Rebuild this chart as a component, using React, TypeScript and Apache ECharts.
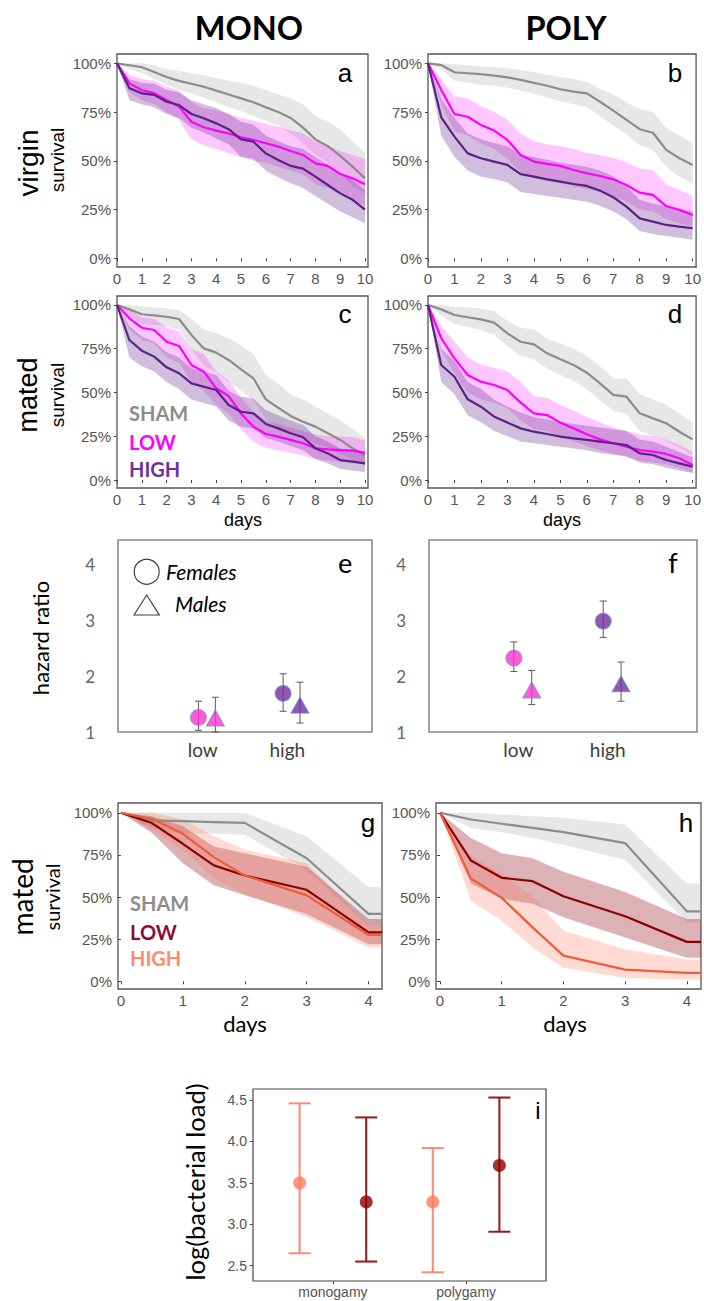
import React, { useEffect, useRef } from "react";
import * as echarts from "echarts";

// ---------- DATA ----------
const T10 = [0, 0.5, 1, 1.5, 2, 2.5, 3, 3.5, 4, 4.5, 5, 5.5, 6, 6.5, 7, 7.5, 8, 8.5, 9, 9.5, 10];
const T4 = [0, 0.5, 1, 1.5, 2, 3, 4];
const dayTicks10 = [0, 1, 2, 3, 4, 5, 6, 7, 8, 9, 10];
const dayTicks4 = [0, 1, 2, 3, 4];
const pctTicks = [0, 25, 50, 75, 100];

// panel a (mono, virgin)
const aShamMean = [100, 99, 98, 95.5, 93, 91, 89.5, 88, 86, 84, 82, 80, 77.5, 75, 72, 67, 61, 57.5, 52.5, 47, 41];
const aShamHi = [100, 100, 100, 99, 97, 96, 95, 94, 92.5, 91, 90, 88.5, 86.5, 84, 82, 79, 73, 70, 66, 60, 54];
const aShamLo = [100, 97, 95, 92, 89, 86.5, 84.5, 82.5, 80, 77.5, 75.5, 73, 70.5, 68, 64, 59, 53, 49, 43, 37, 33];
const aLowMean = [100, 89.7, 86.3, 84.6, 81.2, 77.8, 70, 67.2, 65.5, 64, 62, 60.7, 59, 57.3, 55, 53, 48.7, 47.4, 43.2, 41, 38];
const aLowHi = [100, 94, 92, 91, 88, 86, 80, 77, 76, 74, 72, 70.5, 69, 67.5, 65.5, 64, 60, 58, 55, 53, 51];
const aLowLo = [100, 85, 81, 79, 75, 71, 61, 58, 56, 54, 52, 50, 49, 47, 45, 43, 38, 36, 33, 30, 27];
const aHighMean = [100, 87.2, 84.6, 83.8, 80.3, 78.6, 74, 71.8, 69.2, 66.2, 61, 59.8, 53.8, 50.4, 47.4, 46, 41.9, 37.6, 33.3, 30, 25];
const aHighHi = [100, 92, 90, 89.5, 86.5, 85, 81, 79, 77, 74, 70, 68.5, 63, 60, 57.5, 56, 52, 48, 44, 40, 35];
const aHighLo = [100, 81, 79, 77.5, 74, 72, 67, 64.5, 61.5, 58.5, 52, 51, 45, 41.5, 38.5, 36, 32, 28, 24, 21, 18];

// panel b (poly, virgin)
const bShamMean = [100, 99.1, 95.4, 94.9, 94.4, 93.7, 92.8, 91.5, 90, 88.5, 86.7, 85.5, 84.6, 80.3, 75.7, 71, 66.2, 64.4, 55.6, 51.3, 47.9];
const bShamHi = [100, 100, 99.5, 99, 98.5, 98, 97.5, 96.5, 95.5, 94, 93, 92, 90.5, 87, 84, 80, 76.5, 75, 67, 63, 59];
const bShamLo = [100, 97, 91, 90, 89, 88.5, 87.5, 86, 84.5, 82.5, 80.5, 79, 77.5, 73, 68, 63.5, 58, 55.5, 47, 42, 38];
const bLowMean = [100, 86.3, 74, 72.6, 68.4, 65.5, 60.7, 53, 49.6, 48.4, 47.4, 45.3, 43.6, 42.2, 40.5, 37.6, 33.7, 32.5, 26.8, 24.8, 22.2];
const bLowHi = [100, 92, 83, 82, 78, 75, 71, 64, 60, 58.5, 57.5, 56, 54, 53, 51.5, 49, 46, 45, 38, 35, 32];
const bLowLo = [100, 79, 65, 63, 59, 56, 51, 44, 41, 40, 38.5, 37, 35.5, 34, 32, 29, 25, 24, 20, 18, 16];
const bHighMean = [100, 72.3, 62.4, 53.8, 51.3, 49.6, 47.9, 43.2, 41.9, 40.5, 39.3, 38.1, 37.1, 34.7, 31.3, 26.5, 20.5, 18.8, 17.1, 16.2, 15.4];
const bHighHi = [100, 82, 72, 64, 61, 59, 57.5, 53, 52, 50.5, 49, 48, 47, 45, 42, 37, 30, 28, 27, 25.5, 24];
const bHighLo = [100, 63, 52, 45, 42, 40.5, 39, 34, 33, 32, 31, 30, 29, 27, 24, 20, 14, 12.5, 11.5, 10.5, 9.5];

// panel c (mono, mated)
const cShamMean = [100, 97.5, 94.7, 94.1, 93.3, 92, 82.9, 75.2, 72.8, 68.6, 63.2, 58.1, 46.1, 41.3, 36.6, 33.3, 30.5, 26.7, 22.9, 18.1, 14];
const cShamHi = [100, 100, 99, 98.5, 98, 97, 92, 86, 84, 81, 77, 72, 60, 55, 49, 46, 42, 38, 34, 29, 24];
const cShamLo = [100, 94, 89, 88.5, 87.5, 86, 75, 65, 61.5, 56, 51, 45.5, 35, 30, 27, 24, 21, 18.5, 15, 11.5, 8];
const cLowMean = [100, 92.4, 87, 85.7, 79, 76.6, 65.7, 61.9, 52.4, 48, 38, 30.5, 26.3, 24.8, 22.9, 21, 18.1, 17.5, 17.1, 16.8, 15.5];
const cLowHi = [100, 97, 93, 92, 87, 85, 75, 72, 62, 57, 47, 39, 34, 32, 30, 28, 26, 25, 25, 24.5, 23];
const cLowLo = [100, 86, 80, 78, 70, 67, 56, 51, 43, 38, 29, 22, 18.5, 17, 15.5, 14, 12, 11, 10.5, 10, 9];
const cHighMean = [100, 80, 73.9, 70.5, 64.4, 61, 55.2, 53.3, 51.4, 42.9, 39, 38.1, 32, 29.5, 26.7, 24.4, 18.1, 15.2, 11.4, 10.5, 9.5];
const cHighHi = [100, 88, 82, 79, 73, 70, 64, 62, 60, 51, 47.5, 46.5, 40, 37, 34, 31.5, 25, 22, 18, 17, 16];
const cHighLo = [100, 70, 65, 62, 56, 52, 46, 44, 42, 34, 30.5, 29.5, 24, 22, 19.5, 17, 12, 9.5, 6.5, 5.5, 4.5];

// panel d (poly, mated)
const dShamMean = [100, 97.5, 94.3, 93, 91.8, 89.9, 83.8, 79, 77.5, 72.4, 69, 65.7, 61.3, 55.2, 48.6, 47.6, 38.1, 35.2, 32.4, 27.6, 23.2];
const dShamHi = [100, 100, 99, 98.5, 98, 96.5, 91, 87, 86, 81, 78, 75, 71, 65, 58, 58, 49, 46, 43, 38, 33];
const dShamLo = [100, 94, 89, 87.5, 85.5, 83, 76.5, 71, 69, 63.5, 60, 56.5, 52, 45.5, 39.5, 37.5, 28, 25, 22.5, 18.5, 14];
const dLowMean = [100, 81, 69.5, 60, 56.2, 54.3, 51.4, 44.2, 38.1, 37.1, 32.8, 29.5, 26.1, 23.2, 21, 19, 17.1, 16.2, 14.9, 12.4, 8.6];
const dLowHi = [100, 88, 79, 70, 66, 64, 62, 56, 48, 47, 43, 39.5, 36, 33, 30, 28, 26, 25, 23, 20, 16];
const dLowLo = [100, 74, 61, 50, 46, 44, 41, 34, 29, 28, 25, 22, 19.5, 17, 15, 13.5, 11, 10, 9, 7, 4];
const dHighMean = [100, 65.7, 59, 46.1, 41.9, 36.2, 32.8, 29.5, 27.6, 26.3, 24.8, 23.8, 22.9, 21.9, 21, 20, 15.2, 14.3, 11.4, 9.5, 7.6];
const dHighHi = [100, 75, 68, 56, 52, 46, 42, 38.5, 36, 34.5, 33, 32, 31, 30, 29, 28, 23, 22, 19, 16, 13];
const dHighLo = [100, 56, 49, 37, 33, 28, 25, 22, 21, 20, 19, 18, 17, 15.5, 14.5, 13.5, 10, 9, 7, 5.5, 4];

// panel g (mono, mated, infection)
const gShamMean = [100, 95.5, 95, 94.5, 94, 73, 40];
const gShamHi = [100, 100, 100, 100, 100, 86, 56];
const gShamLo = [100, 91, 88, 87.5, 87, 66, 33];
const gLowMean = [100, 93.9, 81.6, 68.8, 62.8, 54.3, 29];
const gLowHi = [100, 98, 92, 80, 76, 68, 37];
const gLowLo = [100, 88, 70, 57, 51, 40, 22];
const gHighMean = [100, 96.4, 87.5, 73.7, 62.8, 51, 27.5];
const gHighHi = [100, 100, 96, 86, 78, 70, 33];
const gHighLo = [100, 90, 78, 61, 52, 38, 20];

// panel h (poly, mated, infection)
const hShamMean = [100, 96, 93.5, 91, 88.5, 82, 41.5];
const hShamHi = [100, 100, 99, 98, 97, 93, 58];
const hShamLo = [100, 91, 88.5, 85, 81, 72, 35];
const hLowMean = [100, 71.7, 61.4, 59.4, 50.5, 38.6, 23.4];
const hLowHi = [100, 85, 76, 73, 65, 53, 37];
const hLowLo = [100, 58, 49, 46, 38, 26, 14];
const hHighMean = [100, 61, 49.5, 32, 15.2, 6.9, 5];
const hHighHi = [100, 74, 64, 50, 30, 19, 13];
const hHighLo = [100, 48, 36, 20, 8, 2, 1];

// panels e, f (hazard ratios)
const hrCats = ["low", "high"];
const hrTicks = [1, 2, 3, 4];
const eFemaleHR = [1.26, 1.69];
const eFemaleLo = [1.03, 1.37];
const eFemaleHi = [1.55, 2.04];
const eMaleHR = [1.25, 1.48];
const eMaleLo = [1.0, 1.16];
const eMaleHi = [1.62, 1.89];
const fFemaleHR = [2.32, 2.98];
const fFemaleLo = [2.08, 2.69];
const fFemaleHi = [2.61, 3.34];
const fMaleHR = [1.75, 1.86];
const fMaleLo = [1.49, 1.55];
const fMaleHi = [2.1, 2.25];

// panel i (bacterial load)
const loadCats = ["monogamy", "polygamy"];
const loadTicks = [2.5, 3.0, 3.5, 4.0, 4.5];
const highDoseLoad = [3.5, 3.27];
const highDoseLo = [2.65, 2.42];
const highDoseHi = [4.46, 3.92];
const lowDoseLoad = [3.27, 3.71];
const lowDoseLo = [2.55, 2.91];
const lowDoseHi = [4.29, 4.53];

// ---------- STYLE ----------
const GG = "'Liberation Sans', Arial, sans-serif";
const CAL = "Lato, 'Open Sans', sans-serif";
const TICK = "#555555";
const C = {
  sham: "#8c8c8c",
  shamBand: "rgba(180,180,180,0.32)",
  magenta: "#ff00ff",
  magentaBand: "rgba(255,0,255,0.22)",
  purple: "#5b2185",
  purpleBand: "rgba(100,40,140,0.3)",
  dred: "#8b0000",
  dredBand: "rgba(150,20,35,0.33)",
  orange: "#ef5b3b",
  orangeBand: "rgba(255,110,80,0.25)",
  pink: "#ff33cc",
  violet: "#7030a0",
  salmon: "#ff7a5c",
};

type Grp = { mean: number[]; lo: number[]; hi: number[]; line: string; band: string };

function bandSeries(gi: number, T: number[], lo: number[], hi: number[], color: string, xEnd?: number) {
  const ts = xEnd != null ? [...T, xEnd] : T;
  const l = xEnd != null ? [...lo, lo[lo.length - 1]] : lo;
  const h = xEnd != null ? [...hi, hi[hi.length - 1]] : hi;
  return {
    type: "custom",
    xAxisIndex: gi,
    yAxisIndex: gi,
    silent: true,
    z: 1,
    data: ts.map((t, i) => [t, l[i], h[i]]),
    encode: { x: 0, y: [1, 2] },
    renderItem: (params: any, api: any) => {
      if (params.dataIndex !== 0) return null;
      const pts: number[][] = [];
      for (let i = 0; i < ts.length; i++) pts.push(api.coord([ts[i], h[i]]));
      for (let i = ts.length - 1; i >= 0; i--) pts.push(api.coord([ts[i], l[i]]));
      return { type: "polygon", shape: { points: pts }, style: { fill: color } };
    },
  };
}

function lineSeries(gi: number, T: number[], mean: number[], color: string, width: number, xEnd?: number) {
  const ts = xEnd != null ? [...T, xEnd] : T;
  const m = xEnd != null ? [...mean, mean[mean.length - 1]] : mean;
  return {
    type: "line",
    xAxisIndex: gi,
    yAxisIndex: gi,
    silent: true,
    z: 3,
    symbol: "none",
    data: ts.map((t, i) => [t, m[i]]),
    lineStyle: { color, width },
  };
}

function survSeries(gi: number, T: number[], groups: Grp[], xEnd?: number) {
  const out: any[] = [];
  groups.forEach((g) => out.push(bandSeries(gi, T, g.lo, g.hi, g.band, xEnd)));
  groups.forEach((g) => out.push(lineSeries(gi, T, g.mean, g.line, 2.2, xEnd)));
  return out;
}

function errSeries(gi: number, xs: number[], lo: number[], hi: number[], color: string, capW: number, lw: number, z = 2) {
  return {
    type: "custom",
    xAxisIndex: gi,
    yAxisIndex: gi,
    silent: true,
    z,
    data: xs.map((x, i) => [x, lo[i], hi[i]]),
    encode: { x: 0, y: [1, 2] },
    renderItem: (params: any, api: any) => {
      const x = api.value(0);
      const p1 = api.coord([x, api.value(2)]);
      const p2 = api.coord([x, api.value(1)]);
      const hw = capW / 2;
      const st = { stroke: color, lineWidth: lw };
      return {
        type: "group",
        children: [
          { type: "line", shape: { x1: p1[0], y1: p1[1], x2: p2[0], y2: p2[1] }, style: st },
          { type: "line", shape: { x1: p1[0] - hw, y1: p1[1], x2: p1[0] + hw, y2: p1[1] }, style: st },
          { type: "line", shape: { x1: p2[0] - hw, y1: p2[1], x2: p2[0] + hw, y2: p2[1] }, style: st },
        ],
      };
    },
  };
}

function survXAxis(gi: number, min: number, max: number, ticks: number[]) {
  return {
    type: "value",
    gridIndex: gi,
    min,
    max,
    axisLine: { show: false },
    splitLine: { show: false },
    axisTick: { show: true, length: 3, customValues: ticks, lineStyle: { color: "#444", width: 1 } },
    axisLabel: { customValues: ticks, fontSize: 15, color: TICK, fontFamily: GG, margin: 4 },
  };
}
function survYAxis(gi: number, min: number, max: number) {
  return {
    type: "value",
    gridIndex: gi,
    min,
    max,
    axisLine: { show: false },
    splitLine: { show: false },
    axisTick: { show: true, length: 3, customValues: pctTicks, lineStyle: { color: "#444", width: 1 } },
    axisLabel: { customValues: pctTicks, fontSize: 15, color: TICK, fontFamily: GG, margin: 6, formatter: (v: number) => v + "%" },
  };
}

function txt(x: number, y: number, text: string, o: any = {}) {
  return {
    type: "text",
    x,
    y,
    rotation: o.rot ? Math.PI / 2 : 0,
    silent: true,
    z: 10,
    style: {
      text,
      fontSize: o.size || 16,
      fontFamily: o.font || CAL,
      fontWeight: o.weight || "normal",
      fontStyle: o.style || "normal",
      fill: o.color || "#000",
      align: o.align || "center",
      verticalAlign: "middle",
    },
  };
}

export default function App() {
  const ref = useRef<HTMLDivElement>(null);
  useEffect(() => {
    if (!ref.current) return;
    const chart = echarts.init(ref.current, undefined, { renderer: "svg" });

    const gridBase = { show: true, backgroundColor: "transparent", containLabel: false };
    const grids = [
      { left: 117, top: 54, width: 251, height: 213, borderColor: "#555", borderWidth: 1.3 }, // a
      { left: 428, top: 54, width: 272, height: 213, borderColor: "#555", borderWidth: 1.3 }, // b
      { left: 117, top: 296, width: 251, height: 192, borderColor: "#555", borderWidth: 1.3 }, // c
      { left: 428, top: 296, width: 272, height: 192, borderColor: "#555", borderWidth: 1.3 }, // d
      { left: 118, top: 540, width: 254, height: 192, borderColor: "#8a8a8a", borderWidth: 1.6 }, // e
      { left: 429, top: 540, width: 268, height: 192, borderColor: "#8a8a8a", borderWidth: 1.6 }, // f
      { left: 118, top: 803, width: 264, height: 186, borderColor: "#555", borderWidth: 1.3 }, // g
      { left: 436, top: 803, width: 265, height: 186, borderColor: "#555", borderWidth: 1.3 }, // h
      { left: 253, top: 1089, width: 293, height: 192, borderColor: "#444", borderWidth: 1.2 }, // i
    ].map((g) => ({ ...gridBase, ...g }));

    const hrX = (gi: number) => ({
      type: "value",
      gridIndex: gi,
      min: 0,
      max: 3,
      axisLine: { show: false },
      splitLine: { show: false },
      axisTick: { show: false },
      axisLabel: {
        customValues: [1, 2],
        formatter: (v: number) => hrCats[Math.round(v) - 1],
        fontSize: 19,
        color: "#404040",
        fontFamily: CAL,
        margin: 8,
      },
    });
    const hrY = (gi: number) => ({
      type: "value",
      gridIndex: gi,
      min: 1,
      max: 4.43,
      axisLine: { show: false },
      splitLine: { show: false },
      axisTick: { show: false },
      axisLabel: { customValues: hrTicks, fontSize: 17, color: "#666", fontFamily: CAL, margin: 23 },
    });

    const xAxis = [
      survXAxis(0, 0, 10.12, dayTicks10),
      survXAxis(1, 0, 10.13, dayTicks10),
      survXAxis(2, 0, 10.12, dayTicks10),
      survXAxis(3, 0, 10.13, dayTicks10),
      hrX(4),
      hrX(5),
      survXAxis(6, -0.048, 4.217, dayTicks4),
      survXAxis(7, -0.065, 4.23, dayTicks4),
      {
        type: "value",
        gridIndex: 8,
        min: 0.4,
        max: 2.6,
        axisLine: { show: false },
        splitLine: { show: false },
        axisTick: { show: true, length: 3, customValues: [1, 2], lineStyle: { color: "#444" } },
        axisLabel: {
          customValues: [1, 2],
          formatter: (v: number) => loadCats[Math.round(v) - 1],
          fontSize: 14,
          color: TICK,
          fontFamily: GG,
          margin: 4,
        },
      },
    ];
    const yAxis = [
      survYAxis(0, -4.46, 104.77),
      survYAxis(1, -4.46, 104.77),
      survYAxis(2, -4.57, 105.14),
      survYAxis(3, -4.57, 105.14),
      hrY(4),
      hrY(5),
      survYAxis(6, -4.57, 105.8),
      survYAxis(7, -4.57, 105.8),
      {
        type: "value",
        gridIndex: 8,
        min: 2.315,
        max: 4.633,
        axisLine: { show: false },
        splitLine: { show: false },
        axisTick: { show: true, length: 3, customValues: loadTicks, lineStyle: { color: "#444" } },
        axisLabel: {
          customValues: loadTicks,
          formatter: (v: number) => v.toFixed(1),
          fontSize: 14,
          color: TICK,
          fontFamily: GG,
          margin: 6,
        },
      },
    ];

    const purpleGroups = (
      sm: number[], sl: number[], sh: number[],
      lm: number[], ll: number[], lh: number[],
      hm: number[], hl: number[], hh: number[]
    ): Grp[] => [
      { mean: sm, lo: sl, hi: sh, line: C.sham, band: C.shamBand },
      { mean: lm, lo: ll, hi: lh, line: C.magenta, band: C.magentaBand },
      { mean: hm, lo: hl, hi: hh, line: C.purple, band: C.purpleBand },
    ];
    const redGroups = (
      sm: number[], sl: number[], sh: number[],
      lm: number[], ll: number[], lh: number[],
      hm: number[], hl: number[], hh: number[]
    ): Grp[] => [
      { mean: sm, lo: sl, hi: sh, line: C.sham, band: C.shamBand },
      { mean: lm, lo: ll, hi: lh, line: C.dred, band: C.dredBand },
      { mean: hm, lo: hl, hi: hh, line: C.orange, band: C.orangeBand },
    ];

    const series: any[] = [
      ...survSeries(0, T10, purpleGroups(aShamMean, aShamLo, aShamHi, aLowMean, aLowLo, aLowHi, aHighMean, aHighLo, aHighHi)),
      ...survSeries(1, T10, purpleGroups(bShamMean, bShamLo, bShamHi, bLowMean, bLowLo, bLowHi, bHighMean, bHighLo, bHighHi)),
      ...survSeries(2, T10, purpleGroups(cShamMean, cShamLo, cShamHi, cLowMean, cLowLo, cLowHi, cHighMean, cHighLo, cHighHi)),
      ...survSeries(3, T10, purpleGroups(dShamMean, dShamLo, dShamHi, dLowMean, dLowLo, dLowHi, dHighMean, dHighLo, dHighHi)),
      ...survSeries(6, T4, redGroups(gShamMean, gShamLo, gShamHi, gLowMean, gLowLo, gLowHi, gHighMean, gHighLo, gHighHi), 4.217),
      ...survSeries(7, T4, redGroups(hShamMean, hShamLo, hShamHi, hLowMean, hLowLo, hLowHi, hHighMean, hHighLo, hHighHi), 4.23),
    ];

    // hazard ratio panels
    const catColor = [C.pink, C.violet];
    const dodgeF = -0.05;
    const dodgeM = 0.15;
    const hrPanel = (gi: number, fm: number[], fl: number[], fh: number[], mm: number[], ml: number[], mh: number[]) => {
      const fx = hrCats.map((_, i) => i + 1 + dodgeF);
      const mx = hrCats.map((_, i) => i + 1 + dodgeM);
      series.push(errSeries(gi, fx, fl, fh, "#5a5a5a", 7, 1));
      series.push(errSeries(gi, mx, ml, mh, "#5a5a5a", 7, 1));
      series.push({
        type: "scatter",
        xAxisIndex: gi,
        yAxisIndex: gi,
        silent: true,
        z: 4,
        symbol: "circle",
        symbolSize: 16,
        data: fm.map((v, i) => ({ value: [fx[i], v], itemStyle: { color: catColor[i], borderColor: "#6f8fd8", borderWidth: 1 } })),
      });
      series.push({
        type: "scatter",
        xAxisIndex: gi,
        yAxisIndex: gi,
        silent: true,
        z: 4,
        symbol: "triangle",
        symbolSize: [18, 16],
        data: mm.map((v, i) => ({ value: [mx[i], v], itemStyle: { color: catColor[i], borderColor: "#6f8fd8", borderWidth: 1 } })),
      });
    };
    hrPanel(4, eFemaleHR, eFemaleLo, eFemaleHi, eMaleHR, eMaleLo, eMaleHi);
    hrPanel(5, fFemaleHR, fFemaleLo, fFemaleHi, fMaleHR, fMaleLo, fMaleHi);

    // bacterial load panel
    const hx = loadCats.map((_, i) => i + 1 - 0.25);
    const lx = loadCats.map((_, i) => i + 1 + 0.25);
    series.push(errSeries(8, hx, highDoseLo, highDoseHi, "#ff8a70", 22, 2));
    series.push(errSeries(8, lx, lowDoseLo, lowDoseHi, "#9b1515", 22, 2));
    series.push({
      type: "scatter", xAxisIndex: 8, yAxisIndex: 8, silent: true, z: 4, symbol: "circle", symbolSize: 13,
      itemStyle: { color: C.salmon },
      data: highDoseLoad.map((v, i) => [hx[i], v]),
    });
    series.push({
      type: "scatter", xAxisIndex: 8, yAxisIndex: 8, silent: true, z: 4, symbol: "circle", symbolSize: 13,
      itemStyle: { color: C.dred },
      data: lowDoseLoad.map((v, i) => [lx[i], v]),
    });

    const graphic: any[] = [
      txt(249, 27, "MONO", { size: 32.5, weight: "bold" }),
      txt(566, 27, "POLY", { size: 32.5, weight: "bold" }),
      txt(28, 163, "virgin", { size: 28, font: GG, rot: true }),
      txt(57, 160, "survival", { size: 19, font: GG, rot: true }),
      txt(28, 395, "mated", { size: 27, font: GG, rot: true }),
      txt(57, 395, "survival", { size: 19, font: GG, rot: true }),
      txt(40, 638, "hazard ratio", { size: 22, rot: true }),
      txt(22, 897, "mated", { size: 28, rot: true }),
      txt(52, 897, "survival", { size: 20, rot: true }),
      txt(195, 1182, "log(bacterial load)", { size: 25.5, rot: true }),
      // panel letters
      txt(345, 73, "a", { size: 26, font: GG }),
      txt(675, 73, "b", { size: 26, font: GG }),
      txt(345, 314, "c", { size: 26, font: GG }),
      txt(675, 314, "d", { size: 26, font: GG }),
      txt(345, 562, "e", { size: 27 }),
      txt(673, 562, "f", { size: 27 }),
      txt(368, 823, "g", { size: 26, font: GG }),
      txt(686, 823, "h", { size: 26, font: GG }),
      txt(538, 1110, "i", { size: 24, font: GG }),
      // axis titles
      txt(243, 520, "days", { size: 18, font: GG }),
      txt(562, 520, "days", { size: 18, font: GG }),
      txt(245, 1023, "days", { size: 22 }),
      txt(565, 1023, "days", { size: 22 }),
      // legends c
      txt(129, 413, "SHAM", { size: 20, weight: "bold", color: C.sham, align: "left" }),
      txt(129, 442, "LOW", { size: 20, weight: "bold", color: C.magenta, align: "left" }),
      txt(129, 469, "HIGH", { size: 20, weight: "bold", color: C.violet, align: "left" }),
      // legends g
      txt(130, 903, "SHAM", { size: 20, weight: "bold", color: C.sham, align: "left" }),
      txt(130, 932, "LOW", { size: 20, weight: "bold", color: "#8b0a3c", align: "left" }),
      txt(130, 958, "HIGH", { size: 20, weight: "bold", color: "#ff8a70", align: "left" }),
      // legend e
      {
        type: "circle", silent: true, z: 10,
        shape: { cx: 146.7, cy: 571.7, r: 12.5 },
        style: { fill: "none", stroke: "#404040", lineWidth: 1.2 },
      },
      {
        type: "polygon", silent: true, z: 10,
        shape: { points: [[134, 615], [146.7, 595], [159.3, 615]] },
        style: { fill: "none", stroke: "#404040", lineWidth: 1.2 },
      },
      txt(166, 571, "Females", { size: 21, style: "italic", align: "left" }),
      txt(175, 603, "Males", { size: 21, style: "italic", align: "left" }),
    ];

    chart.setOption({
      animation: false,
      backgroundColor: "#ffffff",
      grid: grids,
      xAxis,
      yAxis,
      series,
      graphic,
    });
    return () => chart.dispose();
  }, []);
  return (
    <div
      ref={ref}
      style={{ position: "absolute", left: 0, top: 0, width: 704, height: 1301, background: "#fff" }}
    />
  );
}
